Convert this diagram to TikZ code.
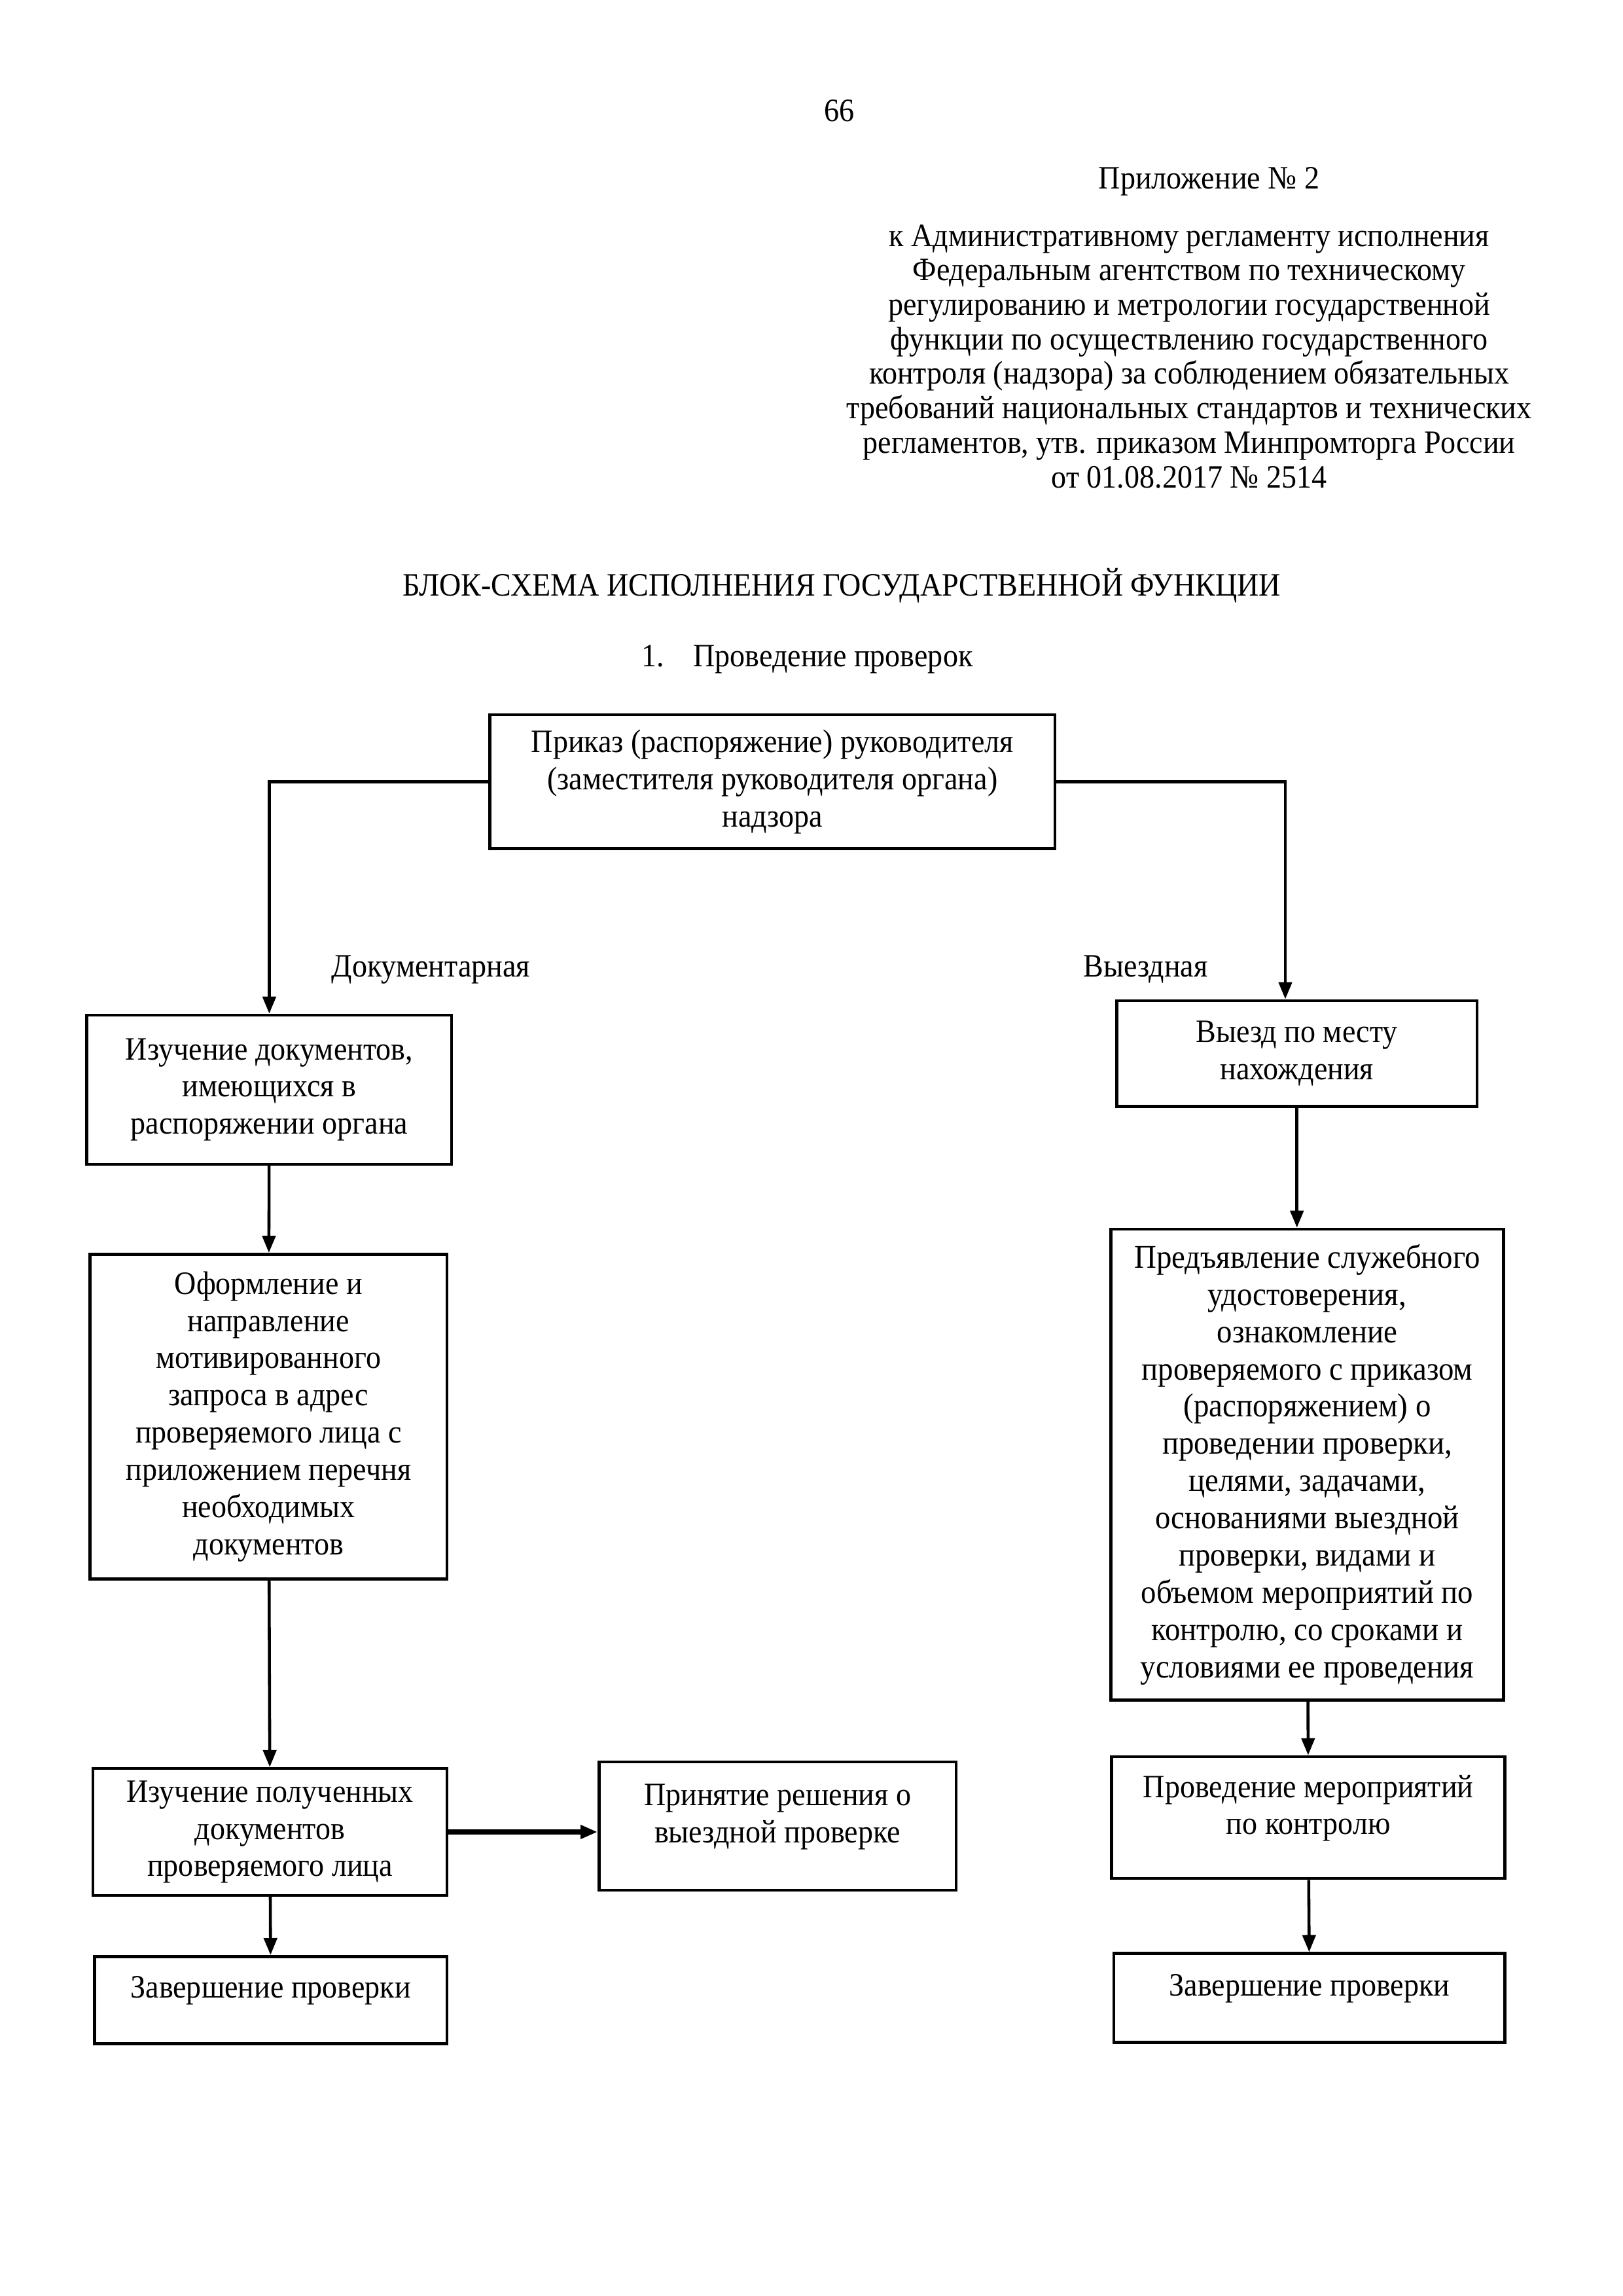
\documentclass[tikz,border=0pt]{standalone}
\usepackage{fontspec}
\setmainfont{Liberation Serif}[FakeStretch=0.925]
\usetikzlibrary{arrows.meta}

\begin{document}
\begin{tikzpicture}[x=0.190909mm, y=-0.190909mm,
	blok/.style={draw, line width=1.1pt, align=center, inner sep=1mm, font=\fontsize{12}{13.7}\selectfont},
	strelka/.style={-{Triangle[length=2.2mm,width=1.7mm]}, line width=1.1pt},
	shapka/.style={align=center, font=\fontsize{12}{12.7}\selectfont}]
	\useasboundingbox (0,0) rectangle (1100,1556);

	% header
	\node (N) at (569,75)    [shapka] {66};
	\node (Pr) at (819.5,123) [shapka] {Приложение № 2};
	\node (K) at (806,241.5) [shapka] {к Административному регламенту исполнения\\
		Федеральным агентством по техническому\\
		регулированию и метрологии государственной\\
		функции по осуществлению государственного\\
		контроля (надзора) за соблюдением обязательных\\
		требований национальных стандартов и технических\\
		регламентов, утв. приказом Минпромторга России\\
		от 01.08.2017 № 2514};
	\node (T) at (570.5,397)  [shapka] {БЛОК-СХЕМА ИСПОЛНЕНИЯ ГОСУДАРСТВЕННОЙ ФУНКЦИИ};
	\node (T1) at (547,447)   [shapka] {1.\hspace{3.8mm}Проведение проверок};

	% boxes
	\node (A) at (523.5,529.75) [blok, minimum width=73.1mm, minimum height=17.3mm] {Приказ (распоряжение) руководителя\\(заместителя руководителя органа)\\надзора};
	\node (L1) at (182.5,738.5) [blok, minimum width=47.2mm, minimum height=19.3mm] {Изучение документов,\\имеющихся в\\распоряжении органа};
	\node (L2) at (182,960)     [blok, minimum width=46.2mm, minimum height=42mm] {Оформление и\\направление\\мотивированного\\запроса в адрес\\проверяемого лица с\\приложением перечня\\необходимых\\документов};
	\node (L3) at (183,1241.5)  [blok, minimum width=45.8mm, minimum height=16.4mm] {Изучение полученных\\документов\\проверяемого лица};
	\node (L4) at (183.5,1355.5) [blok, minimum width=45.6mm, minimum height=11.3mm] {Завершение проверки\\[-1.5mm]\mbox{}};
	\node (M) at (527,1237.5)   [blok, minimum width=46.2mm, minimum height=16.6mm] {Принятие решения о\\выездной проверке\\[-1.5mm]\mbox{}};
	\node (R1) at (879,714)     [blok, minimum width=46.6mm, minimum height=13.7mm] {Выезд по месту\\нахождения};
	\node (R2) at (886,992.5)   [blok, minimum width=50.8mm, minimum height=60.9mm, font=\fontsize{12.2}{13.7}\selectfont] {Предъявление служебного\\удостоверения,\\ознакомление\\проверяемого с приказом\\(распоряжением) о\\проведении проверки,\\целями, задачами,\\основаниями выездной\\проверки, видами и\\объемом мероприятий по\\контролю, со сроками и\\условиями ее проведения};
	\node (R3) at (886.75,1231.75) [blok, minimum width=50.9mm, minimum height=15.75mm] {Проведение мероприятий\\по контролю\\[-1.5mm]\mbox{}};
	\node (R4) at (887.5,1354)  [blok, minimum width=50.6mm, minimum height=11.5mm] {Завершение проверки\\[-1.5mm]\mbox{}};

	% labels
	\node (D) at (292,657) [shapka, font=\fontsize{12}{13.7}\selectfont] {Документарная};
	\node (V) at (776.5,657) [shapka, font=\fontsize{12}{13.7}\selectfont] {Выездная};

	% arrows
	\draw[strelka] (A.west) -| (L1.north);
	\draw[strelka] (A.east) -| ([xshift=-1.5mm]R1.north);
	\draw[strelka] (L1) -- (L2);
	\draw[strelka] (L2) -- (L3);
	\draw[strelka] (L3) -- (L4);
	\draw[strelka, line width=1.7pt] (L3.east) -- (L3.east -| M.west);
	\draw[strelka] (R1) -- (R1 |- R2.north);
	\draw[strelka] (R2) -- (R3);
	\draw[strelka] (R3) -- (R4);
\end{tikzpicture}
\end{document}
